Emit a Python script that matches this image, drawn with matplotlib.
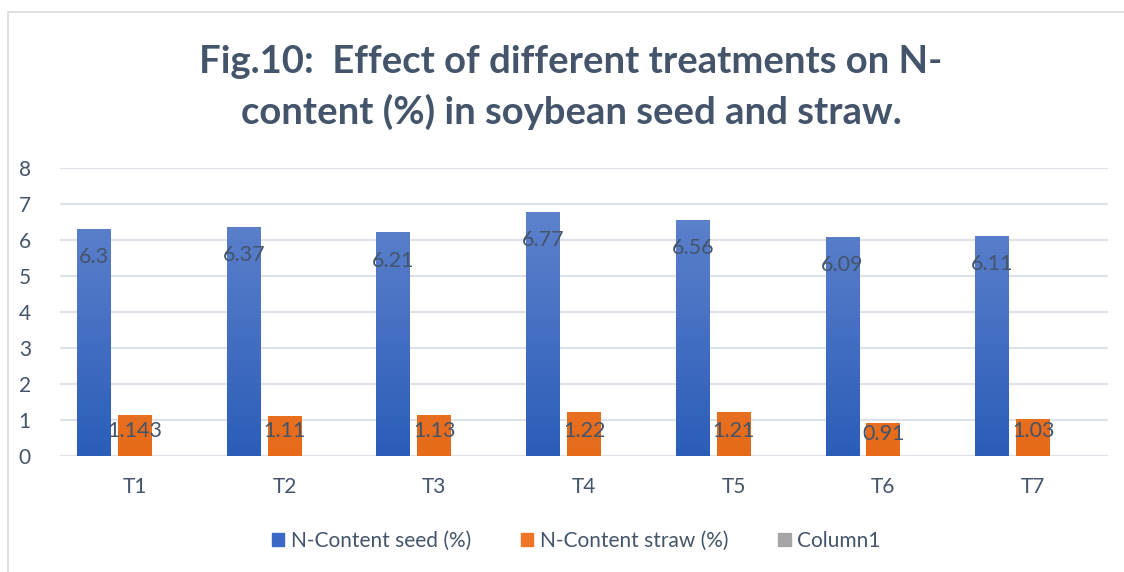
import numpy as np
import matplotlib.pyplot as plt
from matplotlib.patches import Patch, Rectangle
from matplotlib.colors import LinearSegmentedColormap

plt.rcParams['font.family'] = ['Lato', 'DejaVu Sans']

treatments = ['T1', 'T2', 'T3', 'T4', 'T5', 'T6', 'T7']
seed = [6.3, 6.37, 6.21, 6.77, 6.56, 6.09, 6.11]
straw = [1.143, 1.11, 1.13, 1.22, 1.21, 0.91, 1.03]
seed_labels = ['6.3', '6.37', '6.21', '6.77', '6.56', '6.09', '6.11']
straw_labels = ['1.143', '1.11', '1.13', '1.22', '1.21', '0.91', '1.03']
series_names = ['N-Content seed (%)', 'N-Content straw (%)', 'Column1']

txt = '#44546A'
blue_cm = LinearSegmentedColormap.from_list('b', ['#2B5DB8', '#6688D0'])
orange_cm = LinearSegmentedColormap.from_list('o', ['#E66A18', '#F29058'])

fig = plt.figure(figsize=(11.24, 5.72), dpi=100)
# chart border
fig.add_artist(Rectangle((8 / 1124, -0.1), 1.2, 1 - 12 / 572 + 0.1,
                         transform=fig.transFigure, fill=False,
                         edgecolor='#D9D9D9', lw=1.2))

ax = fig.add_axes([60 / 1124, 1 - 456 / 572, 1048 / 1124, 288 / 572])
x = np.arange(len(treatments))
w = 0.227
off = 0.273


def grad_bars(xs, vals, cmap):
    bars = ax.bar(xs, vals, w, color='none', edgecolor='none', zorder=3)
    grad = np.linspace(0, 1, 256).reshape(-1, 1)
    for b in bars:
        x0 = b.get_x()
        im = ax.imshow(grad, cmap=cmap, origin='lower', aspect='auto',
                       extent=[x0, x0 + b.get_width(), 0, 8], zorder=3)
        im.set_clip_path(b)
    return bars


grad_bars(x - off, seed, blue_cm)
grad_bars(x, straw, orange_cm)

for xi, v, s in zip(x, seed, seed_labels):
    ax.text(xi - off, v - 0.78, s, ha='center', va='center',
            fontsize=15.5, color=txt, zorder=5)
for xi, v, s in zip(x, straw, straw_labels):
    ax.text(xi, min(v - 0.3, 0.7), s, ha='center', va='center',
            fontsize=15.5, color=txt, zorder=5)

ax.set_xlim(-0.5, 6.5)
ax.set_ylim(0, 8)
ax.set_yticks(range(0, 9))
ax.set_xticks(x)
ax.set_xticklabels(treatments)
ax.tick_params(axis='both', length=0, labelsize=15, labelcolor=txt)
ax.tick_params(axis='x', pad=15)
ax.tick_params(axis='y', pad=21)
ax.grid(axis='y', color='#DCE1EA', lw=1.5, zorder=0)
ax.set_axisbelow(True)
for sp in ax.spines.values():
    sp.set_visible(False)

fig.text(0.508, 1 - 62 / 572, 'Fig.10:  Effect of different treatments on N-',
         ha='center', va='center', fontsize=27.5, fontweight='bold', color=txt)
fig.text(0.508, 1 - 112 / 572, 'content (%) in soybean seed and straw.',
         ha='center', va='center', fontsize=27.5, fontweight='bold', color=txt)

handles = [Patch(color='#3A68C4'), Patch(color='#EE7626'), Patch(color='#A5A5A5')]
fig.legend(handles, series_names, loc='center', bbox_to_anchor=(576 / 1124, 1 - 541 / 572),
           ncol=3, frameon=False, fontsize=15, labelcolor=txt,
           handlelength=0.6, handleheight=0.6, handletextpad=0.3, columnspacing=2.4)

fig.savefig('out.png', dpi=100)
